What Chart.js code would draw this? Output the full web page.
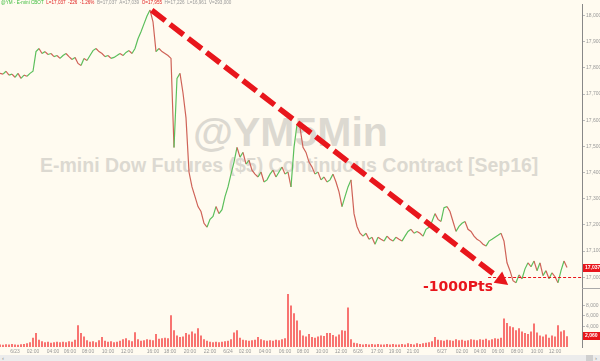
<!DOCTYPE html>
<html>
<head>
<meta charset="utf-8">
<script src="https://cdn.jsdelivr.net/npm/chart.js@4.4.1/dist/chart.umd.min.js"></script>
<style>
  body { margin: 0; background: #fffbf0; }
  #wrap { position: relative; width: 600px; height: 361px; overflow: hidden; font-family: "Liberation Sans", Arial, sans-serif; }
  .wm { position: absolute; white-space: nowrap; font-weight: bold; color: #dcd9d1; line-height: 1; }
  #wm1 { left: 193px; top: 112px; font-size: 41px; }
  #wm2 { left: 40px; top: 156px; font-size: 19.5px; }
  canvas { position: absolute; left: 0; top: 0; }
  #hdr { position: absolute; left: 1px; top: 1px; font-size: 4.6px; line-height: 1; white-space: nowrap; color: #999; }
  #hdr .g { color: #3cbc3c; }
  #hdr .r { color: #e02020; }
  #pts { position: absolute; left: 423px; top: 279px; font: bold 14px "DejaVu Sans", Verdana, sans-serif; line-height: 1; color: #e8161c; }
  #scroll { position: absolute; left: 0; top: 355px; width: 600px; height: 6px; background: #ececec; font-size: 6px; line-height: 6px; color: #888; }
  #scroll .knob { position: absolute; left: 586px; top: 0; width: 7px; height: 6px; background: #cfcfcf; }
</style>
</head>
<body>
<div id="wrap">
  <div class="wm" id="wm1">@YM5Min</div>
  <div class="wm" id="wm2">E-mini Dow Futures ($5) Continuous Contract [Sep16]</div>
  <canvas id="chart" width="600" height="361"></canvas>
  <div id="hdr"><span class="g">@YM - E-mini CBOT</span>&nbsp; <span class="r">L=17,037 &nbsp;-226 &nbsp;-1.26%</span>&nbsp; B=17,037 &nbsp;A=17,039 &nbsp;<span class="r">O=17,955</span> &nbsp;H=17,226 &nbsp;L=16,961 &nbsp;V=293,000</div>
  <div id="pts">-1000Pts</div>
  <div id="scroll"><span style="position:absolute;left:2px">&lsaquo;</span><div class="knob"></div><span style="position:absolute;left:595px">&rsaquo;</span></div>
</div>
<script>
// one value every ~20 minutes (sample index on the x axis)
var prices = [
  17779, 17776, 17787, 17772, 17776, 17764, 17779, 17760, 17772, 17768,
  17779, 17787, 17862, 17874, 17855, 17862, 17851, 17855, 17843, 17847,
  17836, 17847, 17855, 17843, 17832, 17840, 17817, 17809, 17836, 17828,
  17847, 17866, 17874, 17862, 17855, 17843, 17847, 17836, 17840, 17847,
  17855, 17847, 17859, 17866, 17855, 17874, 17911, 17938, 17968, 17998,
  18021, 17976, 17862, 17874, 17862, 17855, 17847, 17836, 17496, 17760,
  17779, 17704, 17609, 17402, 17345, 17308, 17270, 17251, 17206, 17191,
  17221, 17232, 17270, 17243, 17258, 17308, 17345, 17394, 17440, 17496,
  17459, 17477, 17432, 17447, 17409, 17394, 17383, 17402, 17364, 17372,
  17394, 17409, 17383, 17402, 17421, 17394, 17402, 17345, 17496, 17583,
  17572, 17496, 17477, 17440, 17421, 17394, 17402, 17372, 17383, 17364,
  17372, 17394, 17364, 17326, 17270, 17308, 17345, 17372, 17243, 17194,
  17168, 17157, 17168, 17145, 17153, 17126, 17153, 17145, 17138, 17157,
  17145, 17138, 17153, 17145, 17138, 17157, 17175, 17183, 17168, 17175,
  17168, 17157, 17183, 17191, 17213, 17243, 17221, 17213, 17266, 17270,
  17251, 17213, 17175, 17194, 17206, 17213, 17183, 17175, 17157, 17145,
  17138, 17126, 17119, 17138, 17145, 17153, 17160, 17168, 17138, 17055,
  17025, 16987, 16979, 17009, 16994, 17032, 17055, 17040, 17062, 17025,
  17055, 17006, 17025, 16994, 17017, 17002, 16979, 17025, 17062, 17037
];
var volumes = [
  500, 450, 550, 500, 600, 500, 450, 550, 600, 700,
  900, 1800, 2700, 1400, 1100, 900, 1000, 800, 900, 1000,
  900, 1000, 900, 1100, 1000, 1400, 4200, 2700, 2000, 1300,
  1000, 1100, 900, 1300, 1900, 1200, 1000, 1100, 900, 1000,
  1200, 1500, 1700, 1300, 1100, 2850, 1500, 1200, 1300, 1500,
  1400, 1300, 2500, 1600, 1700, 1800, 1700, 6100, 3200, 2200,
  1900, 2000, 2700, 2400, 3000, 2600, 3600, 2200, 1500, 1200,
  1000, 900, 1000, 900, 1000, 1100, 1200, 1500, 2800, 3200,
  1800, 1400, 1300, 1200, 1300, 1400, 1900, 1500, 1300, 1200,
  1300, 1200, 1400, 1300, 1500, 1700, 10200, 8000, 6500, 5100,
  3200, 2200, 2000, 2500, 1900, 1800, 2000, 2200, 2100, 2700,
  2700, 2300, 2000, 2400, 3200, 3100, 7600, 1500, 800, 700,
  600, 500, 600, 500, 600, 500, 600, 500, 500, 600,
  500, 600, 500, 500, 600, 500, 700, 600, 500, 700,
  600, 700, 800, 900, 1100, 1900, 1400, 1300, 1200, 1400,
  1300, 1200, 1500, 1300, 1400, 1200, 1300, 1500, 1400, 1300,
  1500, 1400, 1600, 1300, 1500, 1700, 1600, 1800, 5500, 4600,
  4000, 3800, 3200, 3600, 3000, 2700, 2500, 3000, 4500, 2800,
  2200, 2000, 2400, 1800, 2200, 2000, 4200, 3000, 3200, 2060
];
var tickAt = [5, 11, 17.7, 23.3, 29.3, 36, 42.3, 51, 56.7, 63.3, 70, 76, 81.7, 88.3, 95,
  101, 107.3, 113.7, 119.3, 125.7, 131.7, 137.7, 147.3, 154, 160, 166, 172.3, 179, 185];
var tickText = ['6/23', '02:00', '04:00', '06:00', '08:00', '10:00', '12:00', '16:00', '18:00', '20:00', '22:00',
  '6/24', '02:00', '04:00', '06:00', '08:00', '10:00', '12:00', '6/26', '17:00', '19:00', '21:00',
  '6/27', '02:00', '04:00', '06:00', '08:00', '10:00', '12:00'];
var priceTicks = [17000, 17100, 17200, 17300, 17400, 17500, 17600, 17700, 17800, 17900, 18000];
var volTicks = [4000, 6000, 8000];

// annotation: drop from the peak to the 17,000 level
var arrowFrom = [50.6, 18020];
var arrowTo = [169.4, 16970];
var levelPrice = 17000;
var levelFrom = 162.7;

var RED = '#e8161c';

function fmt(v) { return Math.round(v).toLocaleString('en-US'); }

function valueBox(ctx, x, y, text) {
  ctx.fillStyle = RED;
  ctx.fillRect(x, Math.round(y) - 4, 17, 8);
  ctx.fillStyle = '#fff';
  ctx.font = 'bold 5px "Liberation Sans", Arial, sans-serif';
  ctx.textBaseline = 'middle';
  ctx.textAlign = 'left';
  ctx.fillText(text, x + 2, Math.round(y));
}

var overlay = {
  id: 'overlay',
  afterDatasetsDraw: function(chart) {
    var ctx = chart.ctx;
    var sx = chart.scales.x, sy = chart.scales.y, sv = chart.scales.yv;
    var area = chart.chartArea;
    ctx.save();

    // dashed level line
    var ly = Math.round(sy.getPixelForValue(levelPrice)) + 0.5;
    ctx.strokeStyle = RED;
    ctx.lineWidth = 1;
    ctx.setLineDash([3, 2]);
    ctx.beginPath();
    ctx.moveTo(sx.getPixelForValue(levelFrom), ly);
    ctx.lineTo(area.right, ly);
    ctx.stroke();

    // big dashed arrow
    var x1 = sx.getPixelForValue(arrowFrom[0]), y1 = sy.getPixelForValue(arrowFrom[1]);
    var x2 = sx.getPixelForValue(arrowTo[0]), y2 = sy.getPixelForValue(arrowTo[1]);
    var ang = Math.atan2(y2 - y1, x2 - x1);
    var head = 13, half = 7;
    var xe = x2 - Math.cos(ang) * head, ye = y2 - Math.sin(ang) * head;
    ctx.lineWidth = 5.5;
    ctx.setLineDash([17, 6]);
    ctx.beginPath();
    ctx.moveTo(x1, y1);
    ctx.lineTo(xe, ye);
    ctx.stroke();
    ctx.setLineDash([]);
    ctx.fillStyle = RED;
    ctx.beginPath();
    ctx.moveTo(x2, y2);
    ctx.lineTo(xe + Math.sin(ang) * half, ye - Math.cos(ang) * half);
    ctx.lineTo(xe - Math.sin(ang) * half, ye + Math.cos(ang) * half);
    ctx.closePath();
    ctx.fill();

    // panel separator on the axis side
    ctx.strokeStyle = '#aaa';
    ctx.lineWidth = 1;
    ctx.beginPath();
    ctx.moveTo(area.right, Math.round(sv.top) + 0.5);
    ctx.lineTo(chart.width, Math.round(sv.top) + 0.5);
    ctx.stroke();

    // last value markers
    var lastP = prices[prices.length - 1], lastV = volumes[volumes.length - 1];
    valueBox(ctx, area.right + 1, sy.getPixelForValue(lastP), fmt(lastP));
    valueBox(ctx, area.right + 1, sv.getPixelForValue(lastV), fmt(lastV));
    ctx.restore();
  }
};

var axisFont = { family: '"Liberation Sans", Arial, sans-serif', size: 5 };

new Chart(document.getElementById('chart'), {
  type: 'line',
  data: {
    datasets: [{
      label: 'YM',
      data: prices.map(function(p, i) { return { x: i, y: p }; }),
      yAxisID: 'y',
      borderWidth: 1.2,
      pointRadius: 0,
      tension: 0,
      segment: {
        borderColor: function(c) { return c.p1.parsed.y >= c.p0.parsed.y ? '#5cbf5c' : '#cf6358'; }
      }
    }, {
      type: 'bar',
      label: 'Volume',
      data: volumes.map(function(v, i) { return { x: i, y: v }; }),
      yAxisID: 'yv',
      backgroundColor: 'rgba(246, 84, 84, 0.85)',
      borderWidth: 0,
      barPercentage: 0.85,
      categoryPercentage: 0.75
    }]
  },
  options: {
    responsive: false,
    animation: false,
    devicePixelRatio: 1,
    events: [],
    layout: { padding: { left: 0, right: 0, top: 0, bottom: 6 } },
    plugins: { legend: { display: false }, tooltip: { enabled: false } },
    scales: {
      x: {
        type: 'linear', min: 0, max: 194, offset: false,
        grid: { display: false, drawTicks: false, tickLength: 0 }, border: { display: false },
        afterBuildTicks: function(s) { s.ticks = tickAt.map(function(v) { return { value: v }; }); },
        ticks: {
          autoSkip: false, maxRotation: 0, font: axisFont, color: '#999', padding: 2,
          callback: function(v, i) { return tickText[i]; }
        },
        afterFit: function(s) { s.height = 8; }
      },
      y: {
        type: 'linear', position: 'right', stack: 'panels', stackWeight: 287,
        min: 16960, max: 18044,
        afterBuildTicks: function(s) { s.ticks = priceTicks.map(function(v) { return { value: v }; }); },
        ticks: { font: axisFont, color: '#999', padding: 1, callback: function(v) { return fmt(v); } },
        grid: { drawOnChartArea: false, tickLength: 3, color: '#bbb' },
        border: { color: '#888' },
        afterFit: function(s) { s.width = 18; }
      },
      yv: {
        type: 'linear', position: 'right', stack: 'panels', stackWeight: 60,
        min: 0, max: 11400,
        afterBuildTicks: function(s) { s.ticks = volTicks.map(function(v) { return { value: v }; }); },
        ticks: { font: axisFont, color: '#999', padding: 1, callback: function(v) { return fmt(v); } },
        grid: { drawOnChartArea: false, tickLength: 3, color: '#bbb' },
        border: { color: '#888' },
        afterFit: function(s) { s.width = 18; }
      }
    }
  },
  plugins: [overlay]
});
</script>
</body>
</html>
